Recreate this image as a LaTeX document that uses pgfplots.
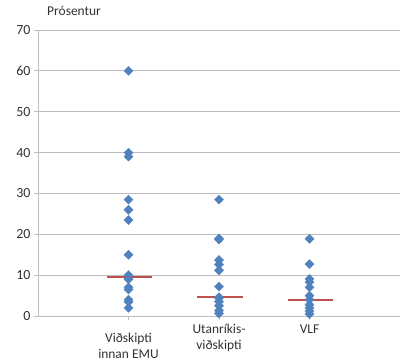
\documentclass[border=0pt]{standalone}
\usepackage{pgfplots}
\pgfplotsset{compat=1.18}
\usepackage{fontspec}
\setmainfont{Carlito}
\definecolor{mblue}{RGB}{79,129,189}
\definecolor{mred}{RGB}{192,80,77}
\definecolor{gridc}{RGB}{190,190,190}
\definecolor{txt}{RGB}{50,50,50}
\begin{document}
\begin{tikzpicture}
\useasboundingbox (-38bp,-47bp) rectangle (364bp,316bp);
\begin{axis}[
  at={(0,0)}, anchor=south west,
  scale only axis, width=362bp, height=286bp,
  xmin=0, xmax=4, ymin=0, ymax=70,
  ytick={0,10,...,70},
  xtick={1,2,3},
  xticklabels={{\rule{0pt}{18bp}Viðskipti\\innan EMU},{Utanríkis-\\viðskipti},{VLF}},
  xticklabel style={align=center, font=\fontsize{13.5}{16}\selectfont, text=txt, anchor=north, yshift=-1bp},
  yticklabel style={font=\fontsize{14}{16}\selectfont, text=txt},
  /pgf/number format/assume math mode=true,
  ymajorgrids, grid style={gridc, line width=0.8pt},
  axis x line*=bottom, axis y line*=left,
  axis line style={gridc, line width=0.8pt, -},
  tick style={gridc, line width=0.8pt},
  tick align=outside, major tick length=4bp,
  clip=false,
]
\addplot[only marks, mark=square*, mark size=3.2bp, mark options={fill=mblue, draw=mblue, rotate=45}] coordinates {
(1,60)(1,40)(1,39)(1,28.5)(1,26)(1,23.5)(1,15)(1,10)(1,9)(1,7)(1,6.5)(1,4)(1,3.5)(1,2)
(2,28.5)(2,19)(2,18.7)(2,13.7)(2,12.6)(2,11.2)(2,7.2)(2,4.6)(2,4.4)(2,3.5)(2,2.5)(2,1.3)(2,0.6)
(3,18.9)(3,12.7)(3,9.1)(3,8.3)(3,7)(3,5)(3,4)(3,2.8)(3,2)(3,1.2)(3,0.5)
};
\addplot[mred, line width=1.8pt, unbounded coords=jump] coordinates {
(0.76,9.5)(1.26,9.5)(nan,nan)(1.76,4.6)(2.26,4.6)(nan,nan)(2.76,3.9)(3.26,3.9)
};
\node[anchor=base west, inner sep=0pt, font=\fontsize{13.5}{16}\selectfont, text=txt] at (axis cs:0.1,0) [yshift=300bp] {Prósentur};
\end{axis}
\end{tikzpicture}
\end{document}
